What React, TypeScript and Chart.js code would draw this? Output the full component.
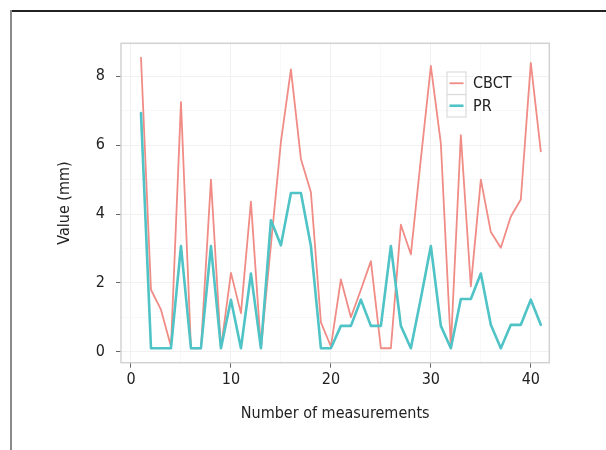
import React, { useEffect, useRef } from "react";
import { Chart, registerables } from "chart.js";

Chart.register(...registerables);

// ---- data ----
const measurementNumbers = [
  1, 2, 3, 4, 5, 6, 7, 8, 9, 10, 11, 12, 13, 14, 15, 16, 17, 18, 19, 20, 21,
  22, 23, 24, 25, 26, 27, 28, 29, 30, 31, 32, 33, 34, 35, 36, 37, 38, 39, 40, 41,
];
const cbctValues = [
  8.54, 1.8, 1.22, 0.15, 7.25, 0.1, 0.1, 5.0, 0.1, 2.29, 1.12, 4.36, 0.1, 3.1,
  6.1, 8.2, 5.6, 4.63, 0.85, 0.15, 2.1, 1.0, 1.8, 2.63, 0.1, 0.1, 3.69, 2.83,
  5.6, 8.3, 6.05, 0.15, 6.29, 1.9, 5.0, 3.48, 3.02, 3.93, 4.42, 8.39, 5.82,
];
const prValues = [
  6.93, 0.1, 0.1, 0.1, 3.07, 0.1, 0.1, 3.07, 0.1, 1.51, 0.1, 2.27, 0.1, 3.82,
  3.09, 4.61, 4.61, 3.07, 0.1, 0.1, 0.75, 0.75, 1.51, 0.75, 0.75, 3.07, 0.75,
  0.1, 1.55, 3.07, 0.75, 0.1, 1.53, 1.53, 2.27, 0.78, 0.1, 0.78, 0.78, 1.51,
  0.78,
];
const seriesNames = ["CBCT", "PR"];
const xMajorTicks = [0, 10, 20, 30, 40];
const xMinorTicks = [5, 15, 25, 35];
const yMajorTicks = [0, 2, 4, 6, 8];
const yMinorTicks = [1, 3, 5, 7];
const xTitle = "Number of measurements";
const yTitle = "Value (mm)";

const FONT = '"DejaVu Sans Condensed", "Liberation Sans Narrow", "Roboto", sans-serif';
const FS = 16;
const TEXT = "#222222";
const COLORS = ["#f08c85", "#4fc3c6"];
const WIDTHS = [1.8, 2.6];

const panelBorder = {
  id: "panelBorder",
  afterDatasetsDraw(chart: any) {
    const { ctx, chartArea: a } = chart;
    ctx.save();
    ctx.strokeStyle = "#d2d2d2";
    ctx.lineWidth = 1.5;
    ctx.strokeRect(a.left, a.top, a.right - a.left, a.bottom - a.top);
    ctx.restore();
  },
};

const keyLegend = {
  id: "keyLegend",
  afterDraw(chart: any) {
    const { ctx } = chart;
    const bx = 447;
    const by = 72;
    const bw = 19;
    const bh = 22.5;
    ctx.save();
    chart.data.datasets.forEach((ds: any, i: number) => {
      const top = by + i * bh;
      ctx.strokeStyle = "#dcdcdc";
      ctx.lineWidth = 1.2;
      ctx.strokeRect(bx, top, bw, bh);
      ctx.strokeStyle = ds.borderColor;
      ctx.lineWidth = ds.borderWidth;
      ctx.beginPath();
      ctx.moveTo(bx + 2.5, top + bh / 2);
      ctx.lineTo(bx + bw - 2.5, top + bh / 2);
      ctx.stroke();
      ctx.fillStyle = TEXT;
      ctx.font = `${FS}px ${FONT}`;
      ctx.textBaseline = "middle";
      ctx.textAlign = "left";
      ctx.fillText(ds.label, bx + bw + 7, top + bh / 2 + 1);
    });
    ctx.restore();
  },
};

export default function App() {
  const ref = useRef<HTMLCanvasElement | null>(null);

  useEffect(() => {
    if (!ref.current) return;
    const series = [cbctValues, prValues];
    const chart = new Chart(ref.current, {
      type: "line",
      data: {
        datasets: series.map((vals, i) => ({
          label: seriesNames[i],
          data: measurementNumbers.map((x, j) => ({ x, y: vals[j] })),
          borderColor: COLORS[i],
          backgroundColor: COLORS[i],
          borderWidth: WIDTHS[i],
          pointRadius: 0,
          tension: 0,
          borderJoinStyle: "round",
          borderCapStyle: "round",
          fill: false,
          order: i === 0 ? 1 : 0,
        })),
      },
      options: {
        animation: false,
        responsive: false,
        maintainAspectRatio: false,
        layout: { padding: { left: 0, top: 43.3, right: 56.7, bottom: 0 } },
        plugins: {
          legend: { display: false },
          tooltip: { enabled: false },
        },
        scales: {
          x: {
            type: "linear",
            min: -1,
            max: 41.85,
            afterBuildTicks: (s: any) => {
              s.ticks = [...xMajorTicks, ...xMinorTicks]
                .sort((a, b) => a - b)
                .map((v) => ({ value: v }));
            },
            afterFit: (s: any) => {
              s.height = 450 - 362.7;
            },
            ticks: {
              autoSkip: false,
              maxRotation: 0,
              padding: 3,
              color: TEXT,
              font: { family: FONT, size: FS },
              callback: (v: any) => (xMajorTicks.includes(v) ? String(v) : ""),
            },
            grid: {
              lineWidth: 1,
              tickLength: 5,
              color: (c: any) =>
                xMajorTicks.includes(c.tick?.value) ? "#f1f1f1" : "#f8f8f8",
              tickColor: (c: any) =>
                xMajorTicks.includes(c.tick?.value) ? "#666666" : "rgba(0,0,0,0)",
            },
            border: { display: false },
            title: {
              display: true,
              text: xTitle,
              color: TEXT,
              font: { family: FONT, size: FS },
              padding: { top: 0, bottom: 26.4 },
            },
          },
          y: {
            type: "linear",
            min: -0.32,
            max: 8.96,
            afterBuildTicks: (s: any) => {
              s.ticks = [...yMajorTicks, ...yMinorTicks]
                .sort((a, b) => a - b)
                .map((v) => ({ value: v }));
            },
            afterFit: (s: any) => {
              s.width = 121;
            },
            ticks: {
              autoSkip: false,
              padding: 11,
              color: TEXT,
              font: { family: FONT, size: FS },
              callback: (v: any) => (yMajorTicks.includes(v) ? String(v) : ""),
            },
            grid: {
              lineWidth: 1,
              tickLength: 5,
              color: (c: any) =>
                yMajorTicks.includes(c.tick?.value) ? "#f1f1f1" : "#f8f8f8",
              tickColor: (c: any) =>
                yMajorTicks.includes(c.tick?.value) ? "#666666" : "rgba(0,0,0,0)",
            },
            border: { display: false },
            title: {
              display: true,
              text: yTitle,
              color: TEXT,
              font: { family: FONT, size: FS },
              padding: { top: 55.4, bottom: 0 },
            },
          },
        },
      },
      plugins: [panelBorder, keyLegend],
    } as any);
    return () => chart.destroy();
  }, []);

  return (
    <div
      style={{
        position: "absolute",
        left: 0,
        top: 0,
        width: 606,
        height: 450,
        background: "#ffffff",
        overflow: "hidden",
      }}
    >
      <div
        style={{
          position: "absolute",
          left: 10,
          top: 10,
          width: 596,
          height: 2,
          background: "#222222",
        }}
      />
      <div
        style={{
          position: "absolute",
          left: 10,
          top: 10,
          width: 2,
          height: 440,
          background: "#8a8a8a",
        }}
      />
      <canvas
        ref={ref}
        width={606}
        height={450}
        style={{ position: "absolute", left: 0, top: 0, width: 606, height: 450 }}
      />
    </div>
  );
}
